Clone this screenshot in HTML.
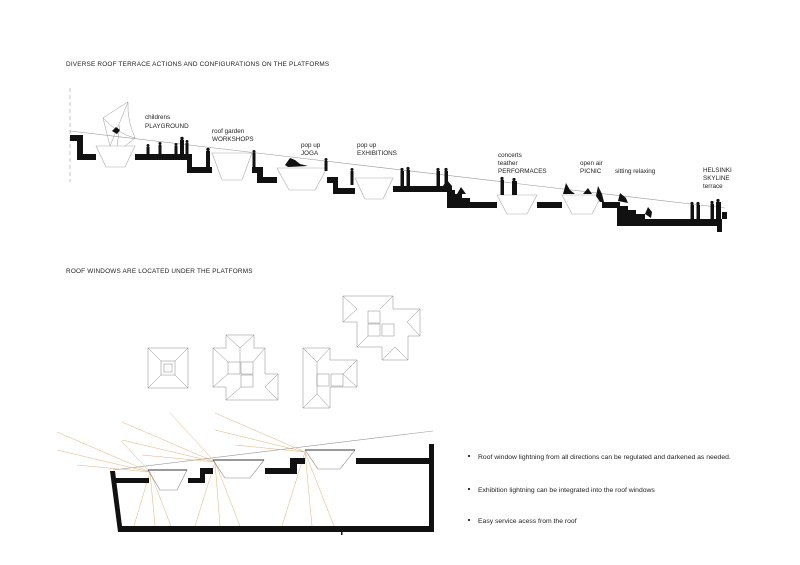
<!DOCTYPE html>
<html><head><meta charset="utf-8"><style>
html,body{margin:0;padding:0;background:#fff;}
svg{display:block;font-family:"Liberation Sans",Arial,sans-serif;}
</style></head><body>
<svg width="800" height="565" viewBox="0 0 800 565" xmlns="http://www.w3.org/2000/svg">
<rect width="800" height="565" fill="#fff"/>
<text x="66" y="66" font-size="6.4" fill="#222" letter-spacing="0.2">DIVERSE ROOF TERRACE ACTIONS AND CONFIGURATIONS ON THE PLATFORMS</text>
<text x="66" y="273" font-size="6.4" fill="#222" letter-spacing="0.2">ROOF WINDOWS ARE LOCATED UNDER THE PLATFORMS</text>

<line x1="70" y1="88" x2="70" y2="182" stroke="#aaa" stroke-width="0.7" stroke-dasharray="4,3"/>
<line x1="70" y1="131" x2="725" y2="208" stroke="#999" stroke-width="0.6"/>
<g stroke="#999" stroke-width="0.5" fill="none">
<path d="M103 118 Q118 108 128 102 Q127 120 135 138 Q118 134 103 118Z"/>
<line x1="110" y1="146" x2="103" y2="118"/><line x1="110" y1="146" x2="128" y2="102"/><line x1="125" y1="146" x2="135" y2="138"/><line x1="117" y1="146" x2="120" y2="125"/>
</g>
<g fill="#111">
<polygon points="70,135 83,135 83,154 96,154 96,160 77,160 77,141 70,141"/>
<polygon points="135,154 192,154 192,167 212,167 212,173 187,173 187,160 135,160"/>
<polygon points="252,167 263,167 263,177 277,177 277,183 257,183 257,173 252,173"/>
<polygon points="327,177 338,177 338,188 355,188 355,194 333,194 333,183 327,183"/>
<rect x="393" y="186" width="54" height="6"/>
<polygon points="447,186 447,208 497,208 497,202 470,202 470,198 462,198 462,194 455,194 455,190 452,190 452,186"/>
<rect x="537" y="202" width="25" height="6"/>
<polygon points="602,202 620,202 620,206 628,206 628,210 636,210 636,214 645,214 645,219 727,219 727,212 722,212 722,232 717,232 717,226 617,226 617,208 602,208"/>
</g>
<g stroke="#aaa" stroke-width="0.6" fill="none">
<polygon points="96,146 135,146 125,167 106,167"/>
<polygon points="212,153 252,153 242,180 222,180"/>
<polygon points="277,168 327,168 315,190 289,190"/>
<polygon points="355,178 393,178 383,199 365,199"/>
<polygon points="497,195 537,195 527,214 507,214"/>
<polygon points="562,195 602,195 592,214 572,214"/>
</g>
<g fill="#111">
<g transform="translate(146,144)"><circle cx="2" cy="1.5" r="1.5"/><rect x="0.5" y="3" width="3" height="7"/></g>
<g transform="translate(158,142)"><circle cx="2" cy="1.5" r="1.5"/><rect x="0.5" y="3" width="3" height="9"/></g>
<g transform="translate(174,143)"><circle cx="2" cy="1.5" r="1.5"/><rect x="0.5" y="3" width="3" height="8"/></g>
<g transform="translate(180,137)"><circle cx="2" cy="1.5" r="1.7"/><rect x="0" y="3" width="4" height="14"/></g>
<g transform="translate(185,140)"><circle cx="2" cy="1.5" r="1.5"/><rect x="0.5" y="3" width="3" height="11"/></g>
<g transform="translate(206,148)"><circle cx="2" cy="1.5" r="1.7"/><rect x="0" y="3" width="4" height="16"/></g>
<g transform="translate(252,150)"><circle cx="2" cy="1.5" r="1.5"/><rect x="0.5" y="3" width="3" height="14"/></g>
<path d="M285 165 L290 158 L295 160 L300 164 L308 166 L288 167Z"/>
<g transform="translate(324,158)"><circle cx="2" cy="1.5" r="1.5"/><rect x="0.5" y="3" width="3" height="10"/></g>
<g transform="translate(350,168)"><circle cx="2" cy="1.5" r="1.5"/><rect x="0.5" y="3" width="3" height="14"/></g>
<g transform="translate(400,168)"><circle cx="2" cy="1.5" r="1.6"/><rect x="0.5" y="3" width="3.5" height="15"/></g>
<g transform="translate(406,167)"><circle cx="2" cy="1.5" r="1.6"/><rect x="0.5" y="3" width="3.5" height="16"/></g>
<g transform="translate(436,168)"><circle cx="2" cy="1.5" r="1.6"/><rect x="0.5" y="3" width="3.5" height="15"/></g>
<g transform="translate(444,168)"><circle cx="2" cy="1.5" r="1.6"/><rect x="0.5" y="3" width="3.5" height="18"/></g>
<path d="M443 186 L447 180 L452 186Z"/><path d="M457 194 L461 187 L466 194Z"/>
<g transform="translate(500,177)"><circle cx="2" cy="1.5" r="1.6"/><rect x="0.5" y="3" width="3.5" height="15"/></g>
<g transform="translate(512,178)"><circle cx="2" cy="1.5" r="1.6"/><rect x="0" y="3" width="5" height="14"/></g>
<path d="M563 194 L566 183 L570 190 L575 194Z"/><path d="M583 194 L588 188 L592 194Z"/>
<path d="M596 196 L598 186 L602 194 L604 202 L600 202Z"/>
<path d="M618 201 L620 193 L626 198 L628 203Z"/><path d="M645 214 L648 207 L652 212 L651 218Z"/>
<g transform="translate(690,202)"><circle cx="2" cy="1.5" r="1.6"/><rect x="0.5" y="3" width="3.5" height="14"/></g>
<g transform="translate(696,202)"><circle cx="2" cy="1.5" r="1.6"/><rect x="0.5" y="3" width="3.5" height="14"/></g>
<g transform="translate(710,201)"><circle cx="2" cy="1.5" r="1.6"/><rect x="0.5" y="3" width="3.5" height="15"/></g>
<g transform="translate(716,199)"><circle cx="2" cy="1.5" r="1.6"/><rect x="0" y="3" width="5" height="17"/></g>
<path d="M112 131 L116 127 L120 130 L117 134Z"/>
</g>
<g font-size="6.3" fill="#222">
<text x="145" y="119">childrens</text><text x="145" y="128">PLAYGROUND</text>
<text x="212" y="133">roof garden</text><text x="212" y="141">WORKSHOPS</text>
<text x="301" y="147">pop up</text><text x="301" y="155">JOGA</text>
<text x="357" y="147">pop up</text><text x="357" y="155">EXHIBITIONS</text>
<text x="498" y="157">concerts</text><text x="498" y="165">teather</text><text x="498" y="173">PERFORMACES</text>
<text x="580" y="165">open air</text><text x="580" y="173">PICNIC</text>
<text x="615" y="173">sitting relaxing</text>
<text x="703" y="172">HELSINKI</text><text x="703" y="180">SKYLINE</text><text x="703" y="188">terrace</text>
</g>

<g stroke="#888" stroke-width="0.5" fill="none">
<rect x="148" y="348" width="40" height="40"/><rect x="161" y="361" width="14" height="14"/><rect x="164" y="364" width="8" height="8"/>
<line x1="148" y1="348" x2="161" y2="361"/><line x1="188" y1="348" x2="175" y2="361"/><line x1="148" y1="388" x2="161" y2="375"/><line x1="188" y1="388" x2="175" y2="375"/>
<path d="M226 335 L254 335 L254 348 L265 348 L265 374 L278 374 L278 400 L226 400 L226 387 L213 387 L213 348 L226 348Z"/>
<rect x="228" y="362" width="12" height="12"/><rect x="241" y="362" width="12" height="12"/><rect x="241" y="375" width="12" height="12"/>
<line x1="226" y1="335" x2="240" y2="348"/><line x1="254" y1="335" x2="240" y2="348"/><line x1="213" y1="348" x2="228" y2="362"/><line x1="265" y1="348" x2="253" y2="362"/><line x1="213" y1="387" x2="228" y2="374"/><line x1="278" y1="374" x2="265" y2="387"/><line x1="226" y1="400" x2="241" y2="387"/><line x1="278" y1="400" x2="265" y2="387"/><line x1="240" y1="348" x2="240" y2="362"/>
<path d="M303 348 L330 348 L330 360 L357 360 L357 387 L330 387 L330 408 L303 408Z"/>
<rect x="317" y="374" width="12" height="12"/><rect x="331" y="374" width="12" height="12"/>
<line x1="303" y1="348" x2="317" y2="362"/><line x1="330" y1="348" x2="317" y2="362"/><line x1="317" y1="362" x2="317" y2="394"/><line x1="303" y1="408" x2="317" y2="394"/><line x1="330" y1="408" x2="317" y2="394"/><line x1="357" y1="360" x2="343" y2="374"/><line x1="357" y1="387" x2="343" y2="374"/>
<path d="M343 296 L393 296 L393 309 L420 309 L420 336 L408 336 L408 360 L382 360 L382 347 L357 347 L357 322 L343 322Z"/>
<rect x="368" y="311" width="12" height="12"/><rect x="368" y="324" width="12" height="12"/><rect x="382" y="324" width="12" height="12"/>
<line x1="343" y1="296" x2="357" y2="309"/><line x1="393" y1="296" x2="380" y2="309"/><line x1="343" y1="322" x2="357" y2="309"/><line x1="420" y1="309" x2="407" y2="322"/><line x1="420" y1="336" x2="407" y2="322"/><line x1="357" y1="347" x2="368" y2="336"/><line x1="382" y1="360" x2="395" y2="347"/><line x1="408" y1="360" x2="395" y2="347"/>
</g>

<line x1="113" y1="470" x2="433" y2="431" stroke="#999" stroke-width="0.6"/>
<g stroke="#e0b27a" stroke-width="0.5" fill="none">
<line x1="150" y1="472" x2="57" y2="432"/><line x1="150" y1="472" x2="57" y2="450"/><line x1="150" y1="472" x2="77" y2="465"/><line x1="150" y1="472" x2="122" y2="442"/>
<line x1="150" y1="472" x2="134" y2="526"/><line x1="150" y1="472" x2="155" y2="526"/><line x1="150" y1="472" x2="171" y2="526"/>
<line x1="215" y1="462" x2="122" y2="422"/><line x1="215" y1="462" x2="122" y2="440"/><line x1="215" y1="462" x2="142" y2="455"/><line x1="215" y1="462" x2="170" y2="413"/>
<line x1="215" y1="462" x2="195" y2="526"/><line x1="215" y1="462" x2="220" y2="526"/><line x1="215" y1="462" x2="240" y2="526"/>
<line x1="305" y1="452" x2="215" y2="413"/><line x1="305" y1="452" x2="215" y2="430"/><line x1="305" y1="452" x2="235" y2="445"/>
<line x1="305" y1="452" x2="282" y2="526"/><line x1="305" y1="452" x2="312" y2="526"/><line x1="305" y1="452" x2="334" y2="526"/>
</g>
<g fill="#111">
<polygon points="110,471 115,471 122,526 433,526 433,532 118,532"/>
<rect x="429" y="444" width="5" height="88"/>
<rect x="116" y="478" width="33" height="5"/>
<polygon points="188,478 200,478 200,468 213,468 213,474 205,474 205,483 188,483"/>
<polygon points="265,468 290,468 290,458 305,458 305,464 297,464 297,474 265,474"/>
<rect x="356" y="458" width="76" height="6"/>
<rect x="341" y="528" width="1.5" height="7"/>
</g>
<g stroke="#888" stroke-width="0.6" fill="none">
<polygon points="148,470 187,470 177,490 160,490"/>
<polygon points="213,460 264,460 250,478 225,478"/>
<polygon points="305,450 355,450 340,469 318,469"/>
</g>
<g stroke="#333" stroke-width="1" fill="none">
<line x1="148" y1="470" x2="187" y2="470"/><line x1="213" y1="460" x2="264" y2="460"/><line x1="305" y1="450" x2="355" y2="450"/>
</g>
<g font-size="6.8" fill="#222">
<circle cx="469" cy="456" r="1.1"/><text x="478" y="459">Roof window lightning from all directions can be regulated and darkened as needed.</text>
<circle cx="469" cy="489" r="1.1"/><text x="478" y="492">Exhibition lightning can be integrated into the roof windows</text>
<circle cx="469" cy="520" r="1.1"/><text x="478" y="523">Easy service acess from the roof</text>
</g>
</svg>
</body></html>
